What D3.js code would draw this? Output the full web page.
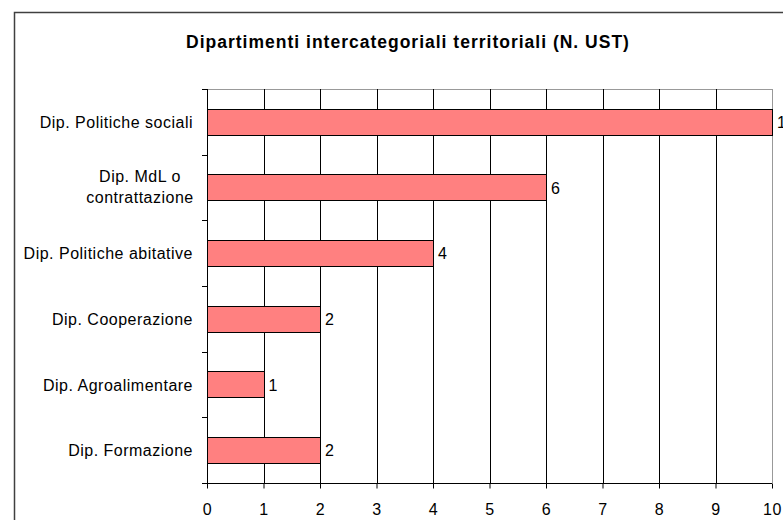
<!DOCTYPE html>
<html>
<head>
<meta charset="utf-8">
<script src="https://cdn.jsdelivr.net/npm/d3@7"></script>
<style>
  body { margin: 0; background: #fff; }
  text { font-family: "Liberation Sans", Arial, sans-serif; fill: #000; }
</style>
</head>
<body>
<div id="chart"></div>
<script>
var categories = ["Dip. Politiche sociali", "Dip. MdL o|contrattazione", "Dip. Politiche abitative",
                  "Dip. Cooperazione", "Dip. Agroalimentare", "Dip. Formazione"];
var values = [10, 6, 4, 2, 1, 2];
var xTicks = [0, 1, 2, 3, 4, 5, 6, 7, 8, 9, 10];
var title = "Dipartimenti intercategoriali territoriali (N. UST)";

var width = 783, height = 520;
var plotL = 207, plotR = 772, plotT = 89, plotB = 483;
var fs = "16px", ls = "0.5px";

var svg = d3.select("#chart").append("svg")
    .attr("width", width)
    .attr("height", height);

svg.append("rect")
    .attr("x", 14.5).attr("y", 12.5)
    .attr("width", 820).attr("height", 560)
    .attr("fill", "#fff")
    .attr("stroke", "#404040")
    .attr("stroke-width", 1.5);

svg.append("text")
    .attr("x", 408).attr("y", 48)
    .attr("text-anchor", "middle")
    .style("font-size", "17.5px")
    .style("font-weight", "bold")
    .style("letter-spacing", "1px")
    .text(title);

var x = d3.scaleLinear().domain([0, 10]).range([plotL, plotR]);
var y = d3.scaleBand().domain(categories).range([plotT, plotB]).paddingInner(0.6).paddingOuter(0.3);

// plot frame (top + right, light grey)
svg.append("line").attr("x1", plotL).attr("x2", plotR).attr("y1", plotT + 0.5).attr("y2", plotT + 0.5)
    .attr("stroke", "#999");
svg.append("line").attr("x1", plotR + 0.5).attr("x2", plotR + 0.5).attr("y1", plotT).attr("y2", plotB)
    .attr("stroke", "#999");

// vertical grid
svg.selectAll(".grid").data(xTicks.slice(1, -1)).enter().append("line")
    .attr("class", "grid")
    .attr("x1", function(d){ return Math.round(x(d)) + 0.5; })
    .attr("x2", function(d){ return Math.round(x(d)) + 0.5; })
    .attr("y1", plotT).attr("y2", plotB)
    .attr("stroke", "#000");

// bars
svg.selectAll(".bar").data(values).enter().append("rect")
    .attr("class", "bar")
    .attr("x", plotL + 0.5)
    .attr("y", function(d, i){ return Math.round(y(categories[i])) + 0.5; })
    .attr("width", function(d){ return Math.round(x(d)) - plotL; })
    .attr("height", Math.round(y.bandwidth()))
    .attr("fill", "#FF8080")
    .attr("stroke", "#000");

svg.selectAll(".val").data(values).enter().append("text")
    .attr("class", "val")
    .attr("x", function(d){ return x(d) + 5; })
    .attr("y", function(d, i){ return y(categories[i]) + y.bandwidth() / 2 + 6; })
    .style("font-size", fs)
    .text(function(d){ return d; });

// x axis
var xAxis = svg.append("g")
    .attr("transform", "translate(0," + (plotB + 0.5) + ")")
    .call(d3.axisBottom(x).tickValues(xTicks).tickSize(5).tickPadding(15).tickFormat(d3.format("d")));
xAxis.select(".domain").attr("d", "M" + (plotL - 5) + ",0H" + plotR).attr("stroke", "#000");
xAxis.selectAll("text").style("font-size", fs).style("letter-spacing", ls)
    .style("font-family", "Liberation Sans, Arial, sans-serif");

// y axis line and ticks at band boundaries
svg.append("line").attr("x1", plotL + 0.5).attr("x2", plotL + 0.5).attr("y1", plotT).attr("y2", plotB)
    .attr("stroke", "#000");
var step = (plotB - plotT) / categories.length;
svg.selectAll(".ytick").data(d3.range(categories.length + 1)).enter().append("line")
    .attr("class", "ytick")
    .attr("x1", plotL - 5).attr("x2", plotL)
    .attr("y1", function(d){ return Math.round(plotT + d * step) + 0.5; })
    .attr("y2", function(d){ return Math.round(plotT + d * step) + 0.5; })
    .attr("stroke", "#000");

// category labels
svg.selectAll(".cat").data(categories).enter().append("text")
    .attr("class", "cat")
    .attr("y", function(d){ return y(d) + y.bandwidth() / 2; })
    .style("font-size", fs)
    .style("letter-spacing", ls)
    .each(function(d){
        var lines = d.split("|");
        var t = d3.select(this);
        if (lines.length === 1) {
            t.attr("x", 193).attr("text-anchor", "end")
                .append("tspan").attr("dy", "6px").text(d);
        } else {
            t.attr("text-anchor", "middle");
            lines.forEach(function(l, i){
                t.append("tspan")
                    .attr("x", 140)
                    .attr("dy", i === 0 ? "-6px" : "21.5px")
                    .text(l);
            });
        }
    });
</script>
</body>
</html>
